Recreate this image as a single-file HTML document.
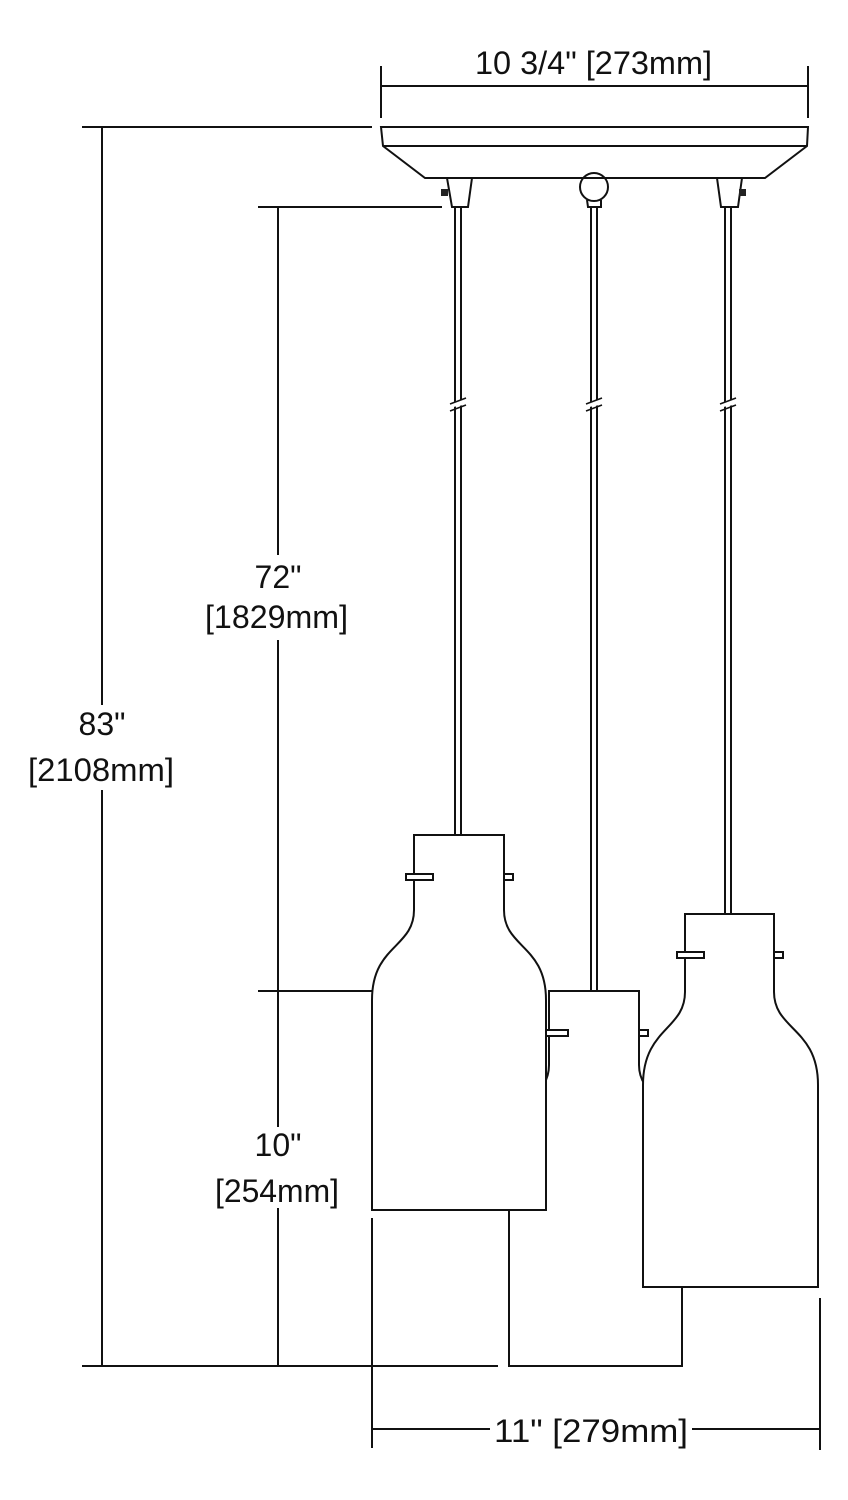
<!DOCTYPE html>
<html><head><meta charset="utf-8"><style>
html,body{margin:0;padding:0;background:#fff;}
svg{display:block;}
text{font-family:"Liberation Sans",sans-serif;font-size:32px;fill:#111;}
</style></head><body>
<svg width="848" height="1500" viewBox="0 0 848 1500" xmlns="http://www.w3.org/2000/svg">
<g stroke="#111" stroke-width="2" fill="none">
<!-- top dimension -->
<line x1="381" y1="66" x2="381" y2="118"/>
<line x1="808" y1="66" x2="808" y2="118"/>
<line x1="381" y1="86" x2="808" y2="86"/>
<!-- left dims -->
<line x1="82" y1="127" x2="372" y2="127"/>
<line x1="102" y1="127" x2="102" y2="705"/>
<line x1="102" y1="790" x2="102" y2="1367"/>
<line x1="258" y1="207" x2="442" y2="207"/>
<line x1="278" y1="207" x2="278" y2="555"/>
<line x1="278" y1="640" x2="278" y2="1127"/>
<line x1="278" y1="1208" x2="278" y2="1367"/>
<line x1="258" y1="991" x2="543" y2="991"/>
<line x1="82" y1="1366" x2="498" y2="1366"/>
<!-- bottom dim -->
<line x1="372" y1="1218" x2="372" y2="1448"/>
<line x1="820" y1="1298" x2="820" y2="1450"/>
<line x1="372" y1="1429" x2="490" y2="1429"/>
<line x1="692" y1="1429" x2="820" y2="1429"/>
<!-- canopy -->
<path d="M381,127 L808,127 L807,146 L765,178 L425,178 L383,146 Z"/>
<line x1="383" y1="146" x2="807" y2="146"/>
<!-- fittings -->
<path d="M447,178 L452,207 L468,207 L472,178"/>
<path d="M717,178 L721,207 L738,207 L742,178"/>
<circle cx="594" cy="187" r="14"/>
<path d="M587,200 L588,207 L601,207 L601,200"/>
<!-- cords -->
<line x1="455" y1="207" x2="455" y2="835"/><line x1="461" y1="207" x2="461" y2="835"/>
<line x1="591" y1="207" x2="591" y2="991"/><line x1="597" y1="207" x2="597" y2="991"/>
<line x1="725" y1="207" x2="725" y2="914"/><line x1="731" y1="207" x2="731" y2="914"/>
</g>
<g fill="#222"><rect x="441" y="189" width="7" height="7"/><rect x="739" y="189" width="7" height="7"/></g>
<!-- cord breaks -->
<g stroke="#fff" stroke-width="5"><line x1="450" y1="405" x2="466" y2="402"/><line x1="586" y1="405" x2="602" y2="402"/><line x1="720" y1="405" x2="736" y2="402"/></g>
<g stroke="#111" stroke-width="1.5">
<line x1="450" y1="404" x2="466" y2="398"/><line x1="450" y1="411" x2="466" y2="405"/>
<line x1="586" y1="404" x2="602" y2="398"/><line x1="586" y1="411" x2="602" y2="405"/>
<line x1="720" y1="404" x2="736" y2="398"/><line x1="720" y1="411" x2="736" y2="405"/>
</g>
<g stroke="#111" stroke-width="2" fill="#fff">
<!-- middle bottle -->
<path d="M549,991 L639,991 L639,1065 C639,1100 682,1100 682,1150 L682,1366 L509,1366 L509,1150 C509,1100 549,1100 549,1065 Z"/>
<rect x="541" y="1030" width="27" height="6"/><rect x="639" y="1030" width="9" height="6"/>
<!-- left bottle -->
<path d="M414,835 L504,835 L504,910 C504,948 546,945 546,1000 L546,1210 L372,1210 L372,1000 C372,945 414,948 414,910 Z"/>
<rect x="406" y="874" width="27" height="6"/><rect x="504" y="874" width="9" height="6"/>
<!-- right bottle -->
<path d="M685,914 L774,914 L774,992 C774,1030 818,1028 818,1085 L818,1287 L643,1287 L643,1085 C643,1028 685,1030 685,992 Z"/>
<rect x="677" y="952" width="27" height="6"/><rect x="774" y="952" width="9" height="6"/>
</g>
<!-- text -->
<text x="475" y="74" textLength="237" lengthAdjust="spacingAndGlyphs">10 3/4" [273mm]</text>
<text x="278" y="588" text-anchor="middle">72"</text>
<text x="205" y="628" textLength="143" lengthAdjust="spacingAndGlyphs">[1829mm]</text>
<text x="102" y="735" text-anchor="middle">83"</text>
<text x="28" y="781" textLength="146" lengthAdjust="spacingAndGlyphs">[2108mm]</text>
<text x="278" y="1156" text-anchor="middle">10"</text>
<text x="215" y="1202" textLength="124" lengthAdjust="spacingAndGlyphs">[254mm]</text>
<text x="494" y="1442" textLength="194" lengthAdjust="spacingAndGlyphs">11" [279mm]</text>
</svg>
</body></html>
